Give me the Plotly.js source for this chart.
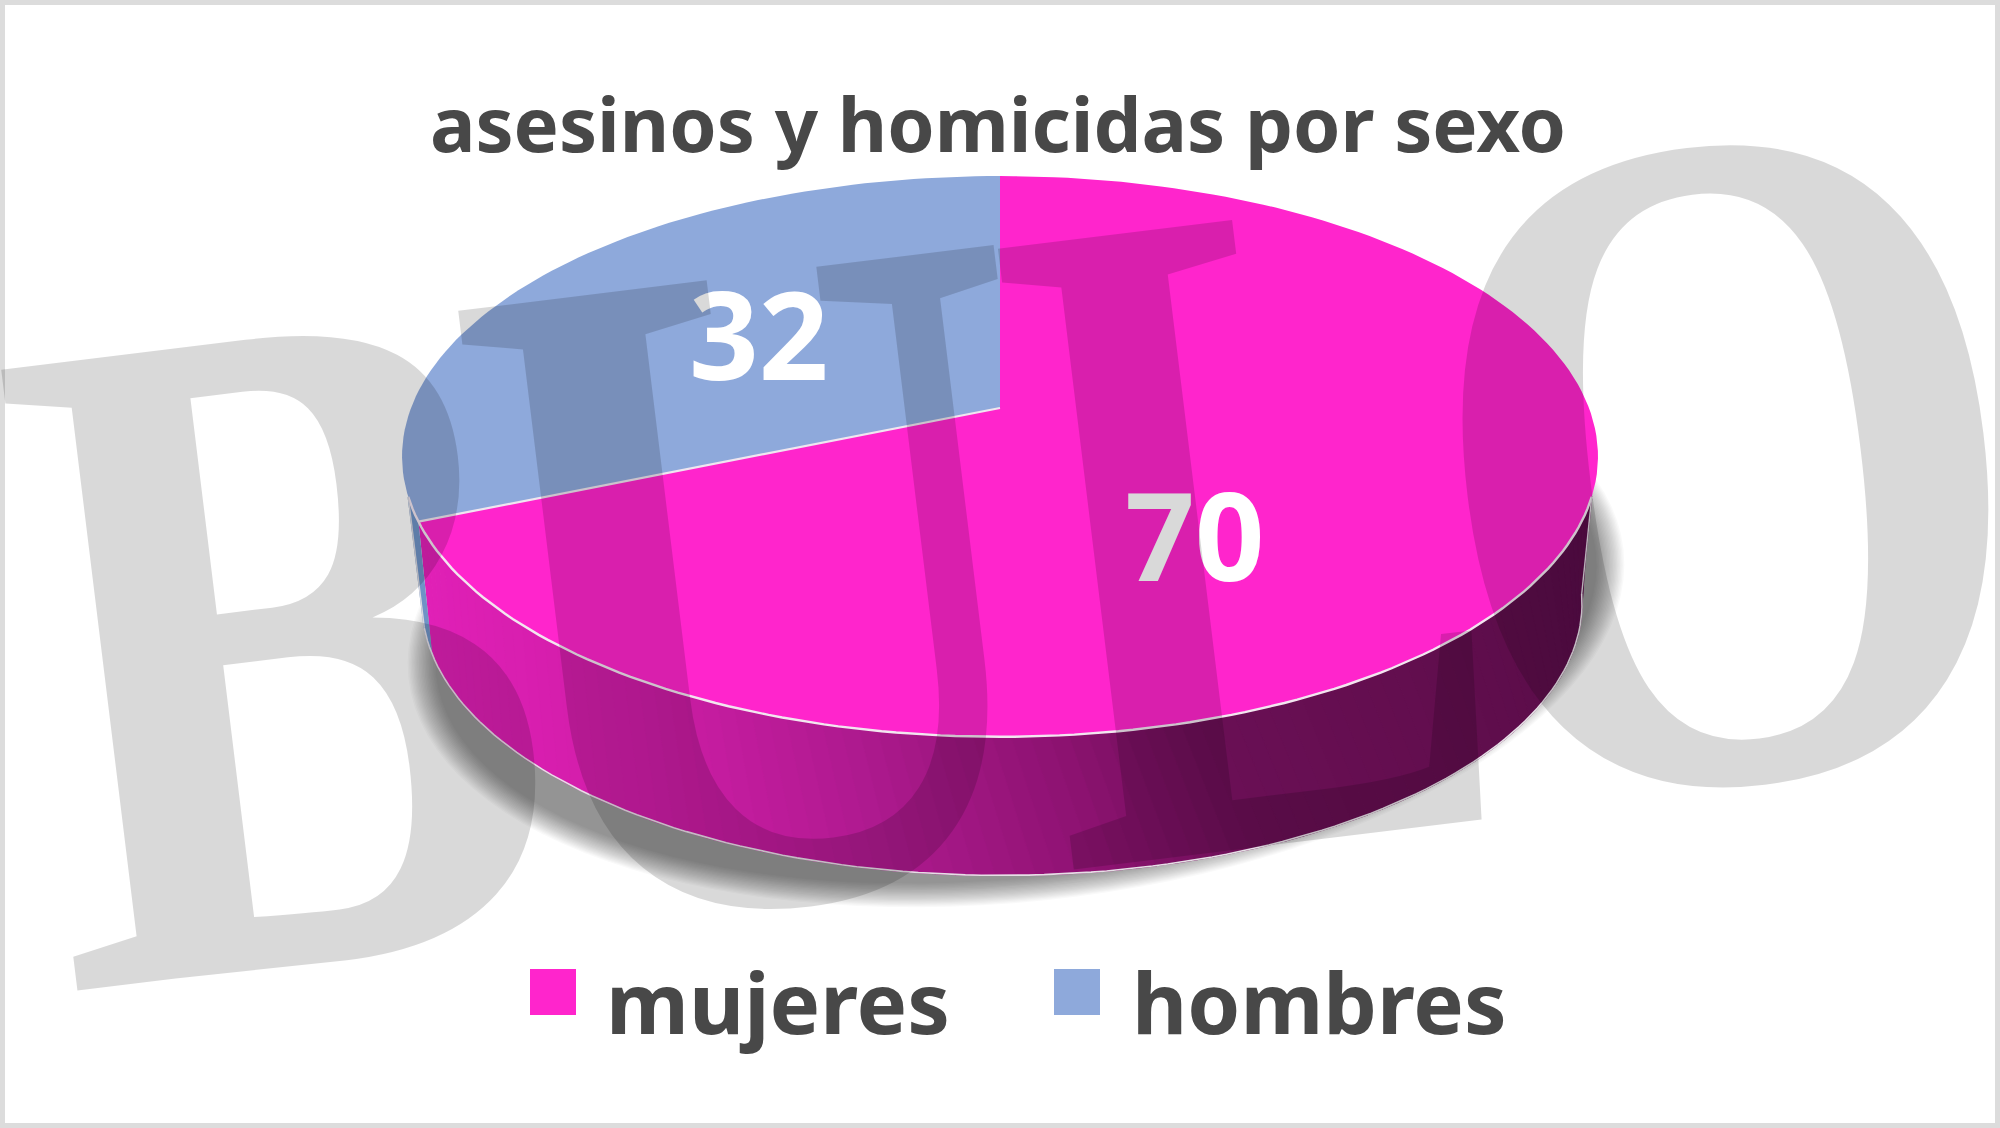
<!DOCTYPE html>
<html>
<head>
<meta charset="utf-8">
<script src="https://cdn.plot.ly/plotly-3.0.1.min.js"></script>
<style>html,body{margin:0;padding:0;background:#fff}#chart{width:2000px;height:1128px;filter:blur(0.6px)}</style>
</head>
<body>
<div id="chart"></div>
<script>
const categories = ['mujeres', 'hombres'];
const values = [70, 32];
const sliceColors = ['#ff25cc', '#8ea9db'];
const chartTitle = 'asesinos y homicidas por sexo';
const watermarkLetters = ['B', 'U', 'L', 'O'];

// perspective disc: the slice angles come from the values
const C = {cx: 1000, ay: 408, a: 589, b: 272, k: 0.1727};
function topPt(phiDeg) {
  const p = phiDeg * Math.PI / 180, u = Math.sin(p), v = Math.cos(p), d = 1 + C.k * v;
  return [C.cx + C.a * u / d, C.ay - C.b * v / d];
}
function botPt(phiDeg) {
  const t = topPt(phiDeg);
  return [1002 + (t[0] - C.cx) * 0.97, 604 + (t[1] - 457) * 0.97];
}
const total = values[0] + values[1];
const splitDeg = values[0] / total * 360;
function steps(a, b, n) { const r = []; for (let i = 0; i <= n; i++) r.push(a + (b - a) * i / n); return r; }
function xy(pts) { return {x: pts.map(p => p[0]), y: pts.map(p => p[1])}; }
function poly(pts, color, name) {
  return Object.assign(xy(pts), {type: 'scatter', mode: 'lines', fill: 'toself', fillcolor: color,
    line: {width: 1.4, color: color}, hoverinfo: 'skip', showlegend: false, name: name || ''});
}
function edge(pts, color, width) {
  return Object.assign(xy(pts), {type: 'scatter', mode: 'lines', line: {width: width, color: color},
    hoverinfo: 'skip', showlegend: false});
}
const traces = [];

// soft shadow under the disc, tilted like the one in the picture
const tilt = -6 * Math.PI / 180;
for (let d = 0; d <= 28; d += 1.4) {
  const pts = steps(0, 360, 120).map(f => {
    const p = f * Math.PI / 180;
    const ex = (583 + d) * Math.sin(p), ey = (264 + d * 0.85) * Math.cos(p);
    return [1016 + ex * Math.cos(tilt) - ey * Math.sin(tilt), 614 + ex * Math.sin(tilt) + ey * Math.cos(tilt)];
  });
  traces.push(Object.assign(poly(pts, 'rgba(0,0,0,0.024)'), {line: {width: 0}}));
}

// side wall with its horizontal shading
const wallStops = [[0, [226, 32, 184]], [0.2, [206, 29, 166]], [0.366, [176, 26, 144]], [0.55, [140, 18, 112]], [0.67, [106, 15, 85]], [0.85, [98, 14, 78]], [1, [88, 12, 72]]];
function wallColor(t) {
  for (let i = 1; i < wallStops.length; i++) {
    if (t <= wallStops[i][0]) {
      const a = wallStops[i - 1], b = wallStops[i], f = (t - a[0]) / (b[0] - a[0]);
      const c = a[1].map((v, j) => Math.round(v + (b[1][j] - v) * f));
      return 'rgb(' + c.join(',') + ')';
    }
  }
  return 'rgb(88,12,72)';
}
const wallStart = 108, wallEnd = 252;
const botPhi = f => 98 + (f - wallStart) * (255 - 98) / (wallEnd - wallStart);
const strips = 90;
for (let i = 0; i < strips; i++) {
  const f0 = splitDeg + (wallStart - splitDeg) * i / strips;
  const f1 = splitDeg + (wallStart - splitDeg) * (i + 1) / strips;
  const fs = [f0, (f0 + f1) / 2, f1];
  const pts = fs.map(topPt).concat(fs.slice().reverse().map(f => botPt(botPhi(f))));
  const mid = topPt(fs[1]);
  traces.push(poly(pts, wallColor((mid[0] - 405) / 1190)));
}
const blueFs = steps(splitDeg, wallEnd, 6);
traces.push(poly(blueFs.map(topPt).concat(blueFs.slice().reverse().map(f => botPt(botPhi(f)))), '#6f93c6'));

// top face slices
const sliceA = [[C.cx, C.ay]].concat(steps(0, splitDeg, 160).map(topPt));
const sliceB = [[C.cx, C.ay]].concat(steps(splitDeg, 360, 80).map(topPt));
traces.push(Object.assign(poly(sliceA, sliceColors[0], categories[0]), {line: {width: 0}}));
traces.push(Object.assign(poly(sliceB, sliceColors[1], categories[1]), {line: {width: 0}}));

// pale edges
traces.push(edge(steps(wallStart, wallEnd, 120).map(topPt), '#f3e6f0', 2.4));
traces.push(edge([[C.cx, C.ay], topPt(splitDeg)], '#f0e6f0', 2.2));
traces.push(edge(steps(wallStart, wallEnd, 120).map(f => botPt(botPhi(f))), '#e6dfe6', 1.6));
traces.push(edge([topPt(wallStart), botPt(botPhi(wallStart))], '#d8d0d8', 1.4));
traces.push(edge([topPt(wallEnd), botPt(botPhi(wallEnd))], '#d8d8e0', 1.4));

const fontText = '"Noto Sans", "Open Sans", sans-serif';
const annotations = [
  {x: 1195, y: 534, text: String(values[0]), font: {family: fontText, size: 122, color: '#ffffff', weight: 700}},
  {x: 759, y: 333, text: String(values[1]), font: {family: fontText, size: 122, color: '#ffffff', weight: 700}},
  {x: 604, y: 1001, xanchor: 'left', text: categories[0], font: {family: fontText, size: 85, color: '#484848', weight: 700}},
  {x: 1130, y: 1001, xanchor: 'left', text: categories[1], font: {family: fontText, size: 85, color: '#484848', weight: 700}}
].map(a => Object.assign({xref: 'x', yref: 'y', showarrow: false, xanchor: 'center', yanchor: 'middle'}, a));

const markCenters = [[281, 641], [763, 579], [1253, 523], [1724, 456]];
const markScale = [0.81, 0.84, 0.73, 0.8];
const watermark = watermarkLetters.map((t, i) => ({
  xref: 'x', yref: 'y', x: markCenters[i][0], y: markCenters[i][1], text: t, showarrow: false,
  xanchor: 'center', yanchor: 'middle',
  font: {family: '"Liberation Serif", serif', size: 955, color: '#000000', weight: 700}
}));

const layout = {
  width: 2000, height: 1128,
  margin: {l: 0, r: 0, t: 0, b: 0},
  paper_bgcolor: '#ffffff', plot_bgcolor: '#ffffff',
  showlegend: false,
  title: {text: chartTitle, x: 0.499, xanchor: 'center', y: 0.889, yanchor: 'middle',
          font: {family: fontText, size: 76, color: '#484848', weight: 700}},
  xaxis: {range: [0, 2000], visible: false, fixedrange: true},
  yaxis: {range: [1128, 0], visible: false, fixedrange: true},
  annotations: annotations.concat(watermark),
  shapes: [
    {type: 'rect', xref: 'x', yref: 'y', x0: 2.5, y0: 2.5, x1: 1997.5, y1: 1125.5, line: {color: '#dcdcdc', width: 5}},
    {type: 'rect', xref: 'x', yref: 'y', x0: 530, y0: 969, x1: 576, y1: 1015, line: {width: 0}, fillcolor: sliceColors[0], layer: 'above'},
    {type: 'rect', xref: 'x', yref: 'y', x0: 1054, y0: 969, x1: 1100, y1: 1015, line: {width: 0}, fillcolor: sliceColors[1], layer: 'above'}
  ]
};

Plotly.newPlot('chart', traces, layout, {displayModeBar: false, staticPlot: true}).then(function (gd) {
  // squeeze and tilt the watermark letters, and give them one shared transparency
  const groups = gd.querySelectorAll('.annotation');
  const n = groups.length, first = n - watermarkLetters.length;
  const parent = groups[first].parentNode;
  const wrap = document.createElementNS('http://www.w3.org/2000/svg', 'g');
  wrap.setAttribute('opacity', '0.145');
  parent.appendChild(wrap);
  for (let i = first; i < n; i++) {
    const outer = groups[i];
    const g = outer.querySelector('.annotation-text-g'), b = g.getBBox();
    const cx = b.x + b.width / 2, cy = b.y + b.height / 2, s = markScale[i - first];
    g.setAttribute('transform',
      'rotate(-7 ' + cx + ' ' + cy + ') translate(' + cx + ' ' + cy + ') scale(' + s + ' 1) translate(' + (-cx) + ' ' + (-cy) + ')');
    wrap.appendChild(outer);
  }
});
</script>
</body>
</html>
